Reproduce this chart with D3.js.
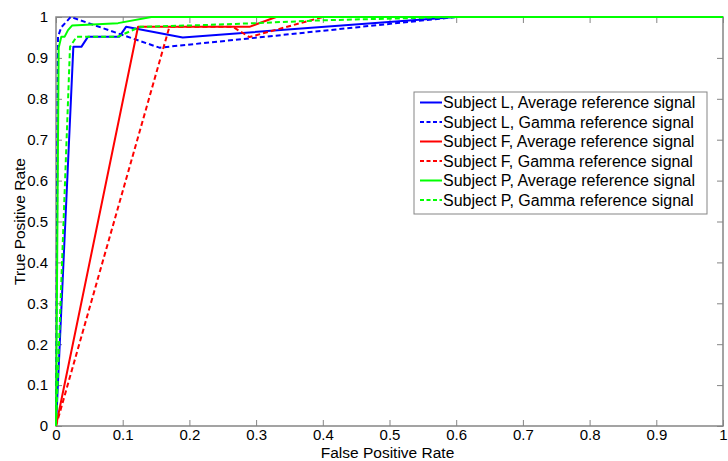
<!DOCTYPE html>
<html><head><meta charset="utf-8">
<script src="https://cdn.jsdelivr.net/npm/d3@7"></script>
<style>body{margin:0;background:#fff}svg{display:block}text{font-family:"Liberation Sans",Arial,sans-serif}</style>
</head><body><svg id="c" width="728" height="461"></svg>
<script>
const xTicks = [0,0.1,0.2,0.3,0.4,0.5,0.6,0.7,0.8,0.9,1];
const yTicks = [0,0.1,0.2,0.3,0.4,0.5,0.6,0.7,0.8,0.9,1];
const seriesNames = ["Subject L, Average reference signal","Subject L, Gamma reference signal","Subject F, Average reference signal","Subject F, Gamma reference signal","Subject P, Average reference signal","Subject P, Gamma reference signal"];
const seriesColors = ["#0000ff","#0000ff","#ff0000","#ff0000","#00ff00","#00ff00"];
const seriesDashed = [false,true,false,true,false,true];
const fprL_avg = [0,0.026,0.038,0.048,0.095,0.105,0.19,0.6,1];
const tprL_avg = [0,0.927,0.927,0.952,0.952,0.976,0.95,1,1];
const fprL_gam = [0,0.003,0.008,0.022,0.155,0.6,1];
const tprL_gam = [0,0.952,0.975,1,0.925,1,1];
const fprF_avg = [0,0.123,0.29,0.33,1];
const tprF_avg = [0,0.976,0.976,1,1];
const fprF_gam = [0,0.17,0.265,0.29,0.4,1];
const tprF_gam = [0,0.976,0.976,0.951,1,1];
const fprP_avg = [0,0.004,0.008,0.013,0.018,0.024,0.093,0.143,1];
const tprP_avg = [0,0.925,0.952,0.952,0.968,0.979,0.985,1,1];
const fprP_gam = [0,0.021,0.031,0.093,0.126,0.216,0.3,0.4,0.6,1];
const tprP_gam = [0,0.927,0.952,0.952,0.976,0.98,0.985,0.992,1,1];
const fprs = [fprL_avg,fprL_gam,fprF_avg,fprF_gam,fprP_avg,fprP_gam];
const tprs = [tprL_avg,tprL_gam,tprF_avg,tprF_gam,tprP_avg,tprP_gam];

const svg = d3.select("#c");
const L = 56, R = 723, T = 17, B = 426;
const x = d3.scaleLinear().domain([0,1]).range([L,R]);
const y = d3.scaleLinear().domain([0,1]).range([B,T]);
const axisCol = "#858585";
const fmt = d => d === 0 ? "0" : d === 1 ? "1" : d3.format(".1f")(d);

svg.append("rect").attr("x",L).attr("y",T).attr("width",R-L).attr("height",B-T)
  .attr("fill","none").attr("stroke",axisCol).attr("stroke-width",1.5);

const gx = svg.append("g").attr("transform",`translate(0,${B})`)
  .call(d3.axisBottom(x).tickValues(xTicks).tickFormat(fmt).tickSizeInner(-6).tickSizeOuter(0).tickPadding(3));
const gxt = svg.append("g").attr("transform",`translate(0,${T})`)
  .call(d3.axisTop(x).tickValues(xTicks).tickFormat("").tickSizeInner(-6).tickSizeOuter(0));
const gy = svg.append("g").attr("transform",`translate(${L},0)`)
  .call(d3.axisLeft(y).tickValues(yTicks).tickFormat(fmt).tickSizeInner(-6).tickSizeOuter(0).tickPadding(8));
const gyr = svg.append("g").attr("transform",`translate(${R},0)`)
  .call(d3.axisRight(y).tickValues(yTicks).tickFormat("").tickSizeInner(-6).tickSizeOuter(0));
[gx,gxt,gy,gyr].forEach(g=>{
  g.select(".domain").remove();
  g.selectAll("line").attr("stroke",axisCol);
  g.selectAll("text").attr("fill","#000").style("font-size","15px");
});

const line = d3.line().x(d=>x(d[0])).y(d=>y(d[1]));
fprs.forEach((f,i)=>{
  const pts = f.map((v,j)=>[v,tprs[i][j]]);
  svg.append("path").attr("d",line(pts)).attr("fill","none")
    .attr("stroke",seriesColors[i]).attr("stroke-width",2)
    .attr("stroke-dasharray",seriesDashed[i]?"5,3":null)
    .attr("stroke-linejoin","round");
});

svg.append("text").attr("x",(L+R)/2-2).attr("y",458).attr("text-anchor","middle")
  .style("font-size","15.5px").text("False Positive Rate");
svg.append("text").attr("transform",`translate(25,${(T+B)/2}) rotate(-90)`).attr("text-anchor","middle")
  .style("font-size","15.5px").text("True Positive Rate");

const lg = svg.append("g");
const lx = 414, ly = 92, lw = 293, lh = 122;
lg.append("rect").attr("x",lx).attr("y",ly).attr("width",lw).attr("height",lh)
  .attr("fill","#fff").attr("stroke",axisCol).attr("stroke-width",1);
seriesNames.forEach((n,i)=>{
  const yy = ly + 10.5 + i*19.5;
  lg.append("line").attr("x1",lx+6).attr("x2",lx+28).attr("y1",yy).attr("y2",yy)
    .attr("stroke",seriesColors[i]).attr("stroke-width",2)
    .attr("stroke-dasharray",seriesDashed[i]?"4,2.5":null);
  lg.append("text").attr("x",lx+29).attr("y",yy).attr("dy","0.36em")
    .style("font-size","16px").text(n);
});
</script></body></html>
